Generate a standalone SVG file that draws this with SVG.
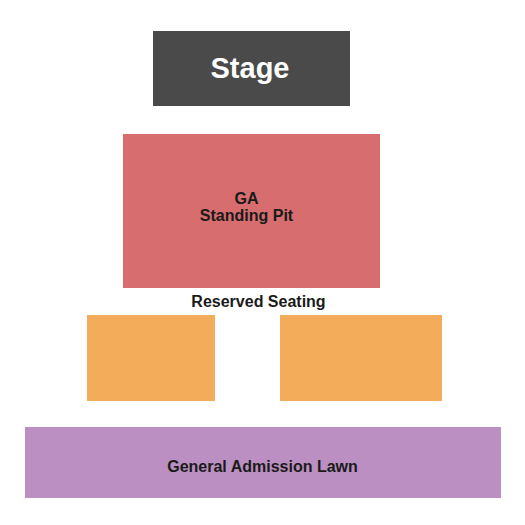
<svg xmlns="http://www.w3.org/2000/svg" width="525" height="525" viewBox="0 0 525 525">
<style>
text{font-family:"Liberation Sans",Arial,sans-serif;font-weight:bold;text-anchor:middle;fill:#1a1a1a;font-size:16px}
.res{fill:#f3ad5a}
</style>
<rect width="525" height="525" fill="#fff"/>
<g id="stage"><rect x="153" y="31" width="197" height="75" fill="#4a4a4a"/><text x="250" y="78" style="font-size:29px;fill:#fff">Stage</text></g>
<g id="ga-pit"><rect x="123" y="134" width="257" height="154" fill="#d76d6e"/><text x="246.5" y="204">GA</text><text x="246.5" y="221">Standing Pit</text></g>
<g id="reserved-label"><text x="258.5" y="307">Reserved Seating</text></g>
<g id="reserved-left"><rect class="res" x="87" y="315" width="128" height="86"/></g>
<g id="reserved-right"><rect class="res" x="280" y="315" width="162" height="86"/></g>
<g id="lawn"><rect x="25" y="427" width="476" height="71" fill="#bb8fc1"/><text x="262.5" y="472">General Admission Lawn</text></g>
<g id="connectors"/>
</svg>
